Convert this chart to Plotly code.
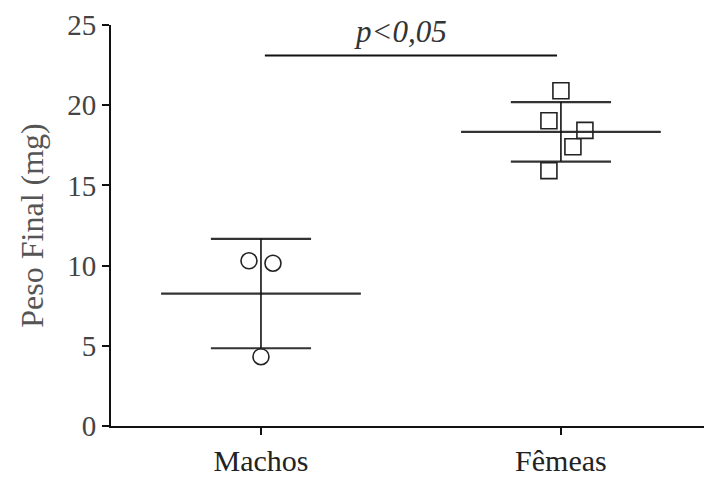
import numpy as np
import plotly.graph_objects as go

categories = ["Machos", "Fêmeas"]
cat_pos = [1, 2]
machos_values = [10.3, 10.15, 4.32]
machos_offsets = [-0.04, 0.04, 0.0]
femeas_values = [20.9, 19.03, 18.43, 17.41, 15.92]
femeas_offsets = [0.0, -0.04, 0.08, 0.04, -0.04]
y_ticks = [0, 5, 10, 15, 20, 25]
sig_y = 23.1
sig_label = "p<0,05"

FONT = "Liberation Serif, Times New Roman, serif"
fig = go.Figure()

groups = [
    (cat_pos[0], machos_values, machos_offsets, "circle-open"),
    (cat_pos[1], femeas_values, femeas_offsets, "square-open"),
]
for pos, vals, offs, sym in groups:
    vals = np.array(vals)
    m = vals.mean()
    sd = vals.std(ddof=1)
    fig.add_trace(go.Scatter(x=[pos - 0.333, pos + 0.333], y=[m, m], mode="lines",
                             line=dict(color="#333", width=2.2), showlegend=False, hoverinfo="skip"))
    for v in (m + sd, m - sd):
        fig.add_trace(go.Scatter(x=[pos - 0.167, pos + 0.167], y=[v, v], mode="lines",
                                 line=dict(color="#333", width=2.2), showlegend=False, hoverinfo="skip"))
    fig.add_trace(go.Scatter(x=[pos, pos], y=[m - sd, m + sd], mode="lines",
                             line=dict(color="#111", width=1.6), showlegend=False, hoverinfo="skip"))
    fig.add_trace(go.Scatter(x=[pos + o for o in offs], y=vals, mode="markers",
                             marker=dict(symbol=sym, size=16, color="#222", line=dict(width=1.6)),
                             showlegend=False))

fig.add_trace(go.Scatter(x=[cat_pos[0] + 0.013, cat_pos[1] - 0.013], y=[sig_y, sig_y], mode="lines",
                         line=dict(color="#111", width=2), showlegend=False, hoverinfo="skip"))
fig.add_annotation(x=(cat_pos[0] + cat_pos[1]) / 2 - 0.035, y=sig_y, yref="y", xref="x",
                   text="<i>" + sig_label + "</i>", showarrow=False, yanchor="bottom", yshift=4,
                   font=dict(family=FONT, size=31, color="#333"))

fig.update_layout(
    width=704, height=480,
    margin=dict(l=111, r=0, t=25, b=54),
    plot_bgcolor="white", paper_bgcolor="white",
    font=dict(family=FONT, size=30, color="#333"),
    xaxis=dict(range=[0.5, 2.477], tickmode="array", tickvals=cat_pos, ticktext=categories,
               showline=True, linecolor="#111", linewidth=2, ticks="outside", ticklen=7,
               tickwidth=2, tickcolor="#111", showgrid=False, zeroline=False,
               tickfont=dict(family=FONT, size=30, color="#222")),
    yaxis=dict(range=[0, 25], tickmode="array", tickvals=y_ticks,
               showline=True, linecolor="#111", linewidth=2, ticks="outside", ticklen=7,
               tickwidth=2, tickcolor="#111", showgrid=False, zeroline=False,
               title=dict(text="Peso Final (mg)", font=dict(family=FONT, size=32, color="#555"), standoff=14),
               tickfont=dict(family=FONT, size=29, color="#444")),
)

fig.write_html("out.html")
